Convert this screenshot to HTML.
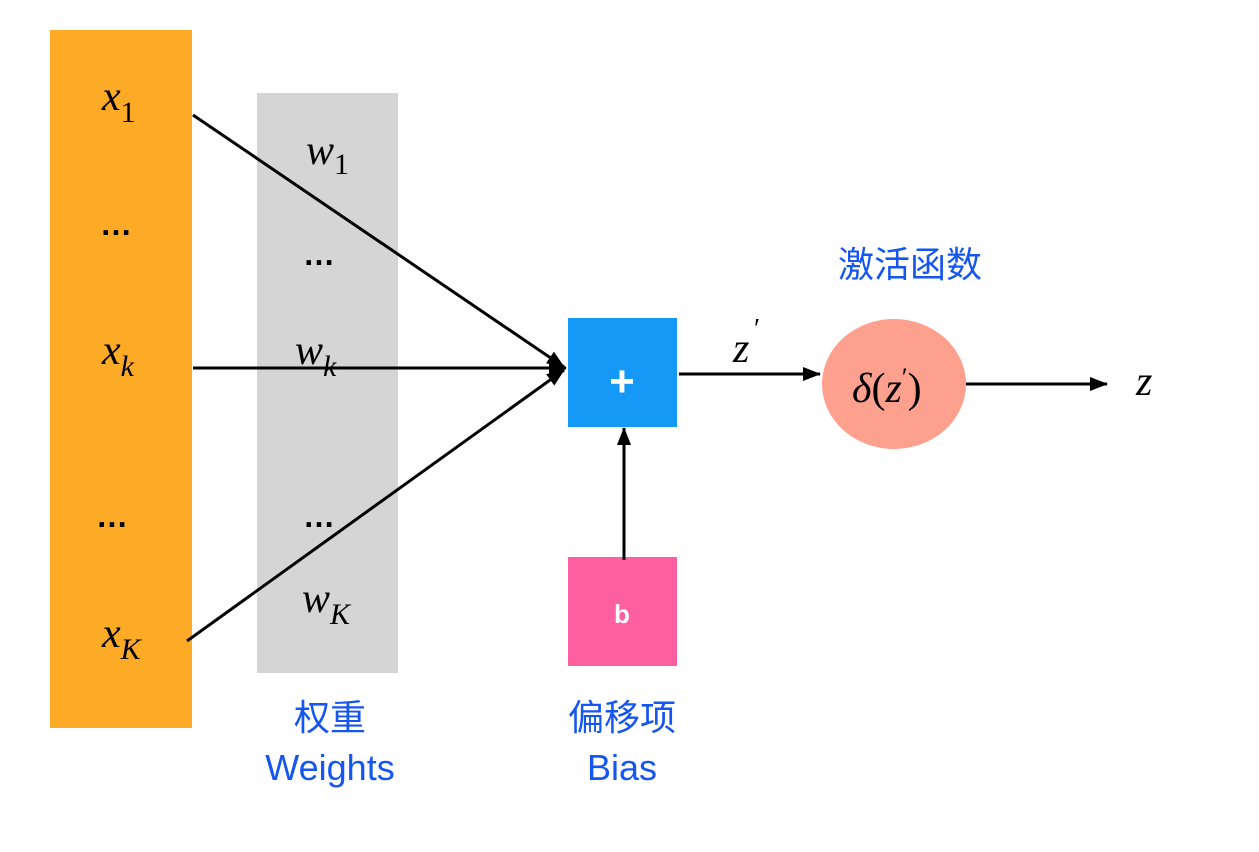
<!DOCTYPE html>
<html><head><meta charset="utf-8"><style>
body{margin:0;background:#fff;width:1259px;height:847px;overflow:hidden}
</style></head><body>
<svg width="1259" height="847" xmlns="http://www.w3.org/2000/svg">
<defs>
<marker id="b" viewBox="0 0 18 14" markerWidth="18" markerHeight="14" refX="17" refY="7" orient="auto" markerUnits="userSpaceOnUse"><path d="M0,0 L18,7 L0,14 z" fill="#000"/></marker></defs>
<rect x="50" y="30" width="142" height="698" fill="#fdaa27"/>
<rect x="257" y="93" width="141" height="580" fill="#d5d5d5"/>
<rect x="568" y="318" width="109" height="109" fill="#1499f7"/>
<rect x="568" y="557" width="109" height="109" fill="#fd5fa1"/>
<ellipse cx="894" cy="384" rx="72" ry="65" fill="#fda08e"/>
<g stroke="#000" stroke-width="3" fill="none">
<line x1="193" y1="115" x2="564" y2="367" marker-end="url(#b)"/>
<line x1="193" y1="368" x2="566" y2="368" marker-end="url(#b)"/>
<line x1="187" y1="641" x2="564" y2="370" marker-end="url(#b)"/>
<line x1="679" y1="374" x2="820" y2="374" marker-end="url(#b)"/>
<line x1="966" y1="384" x2="1107" y2="384" marker-end="url(#b)"/>
<line x1="624" y1="560" x2="624" y2="428" marker-end="url(#b)"/>
</g>
<g font-family="Liberation Serif, serif" font-style="italic" fill="#000">
<text x="102" y="110" font-size="42">x<tspan font-size="30" dy="12" font-style="normal">1</tspan></text>
<text x="102" y="364" font-size="42">x<tspan font-size="30" dy="12">k</tspan></text>
<text x="102" y="647" font-size="42">x<tspan font-size="30" dy="12">K</tspan></text>
<text x="306" y="164" font-size="42">w<tspan font-size="30" dy="10" font-style="normal">1</tspan></text>
<text x="295" y="364" font-size="42">w<tspan font-size="30" dy="12">k</tspan></text>
<text x="302" y="612" font-size="42">w<tspan font-size="30" dy="12">K</tspan></text>
<text x="733" y="362" font-size="42">z</text>
<text x="754" y="338" font-size="28" font-style="normal">′</text>
<text x="852" y="402" font-size="42">δ<tspan font-style="normal">(</tspan>z<tspan font-style="normal" font-size="26" dy="-16">′</tspan><tspan font-style="normal" dy="16">)</tspan></text>
<text x="1136" y="395" font-size="42">z</text>
</g>
<g font-family="Liberation Sans, sans-serif" font-size="32" fill="#000" font-weight="bold">
<text x="100" y="235">…</text><text x="303" y="265">…</text>
<text x="96" y="527">…</text><text x="303" y="527">…</text>
</g>
<text x="622" y="396" font-family="Liberation Sans, sans-serif" font-size="44" font-weight="bold" fill="#fff" text-anchor="middle">+</text>
<text x="622" y="623" font-family="Liberation Sans, sans-serif" font-size="26" font-weight="bold" fill="#fff" text-anchor="middle">b</text>
<g font-family="Liberation Sans, Noto Sans CJK SC, sans-serif" font-size="36" fill="#1656f0" text-anchor="middle">
<text x="910" y="277">激活函数</text>
<text x="330" y="730">权重</text>
<text x="330" y="780">Weights</text>
<text x="622" y="730">偏移项</text>
<text x="622" y="780">Bias</text>
</g>
</svg>
</body></html>
